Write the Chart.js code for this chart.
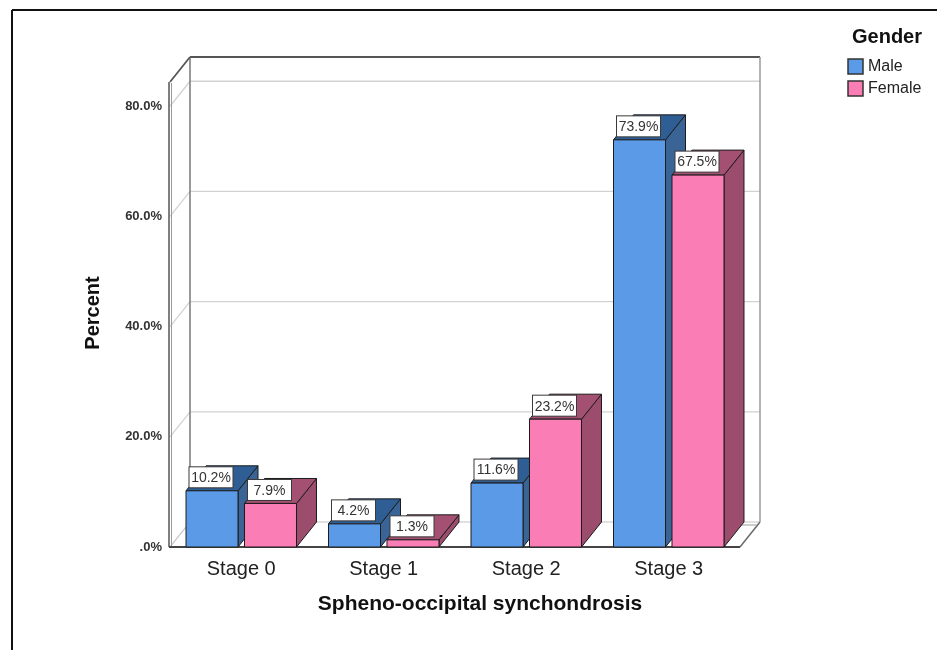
<!DOCTYPE html>
<html>
<head>
<meta charset="utf-8">
<script src="https://cdn.jsdelivr.net/npm/chart.js@4.4.1/dist/chart.umd.min.js"></script>
<style>
  html, body { margin: 0; padding: 0; background: #ffffff; }
  canvas { display: block; }
</style>
</head>
<body>
<canvas id="chart" width="937" height="650"></canvas>
<script>
// Spheno-occipital synchondrosis stage by gender (percent within gender)
const categories = ['Stage 0', 'Stage 1', 'Stage 2', 'Stage 3'];
const seriesNames = ['Male', 'Female'];
const maleValues = [10.2, 4.2, 11.6, 73.9];
const femaleValues = [7.9, 1.3, 23.2, 67.5];
const yTickValues = [0, 20, 40, 60, 80];
const yMax = 84.4;

const legendTitle = 'Gender';
const xTitle = 'Spheno-occipital synchondrosis';
const yTitle = 'Percent';

// face colours: front / side / top
const palette = [
  { front: '#5A9AE6', side: '#3A6496', top: '#2F5E95' },
  { front: '#FB7DB5', side: '#9C4C6D', top: '#A35072' }
];

// oblique depth of the 3D box and bars
const DX = 20, DY = -25;
const FONT = "'Liberation Sans', Arial, sans-serif";

function pct(v) {
  return v === 0 ? '.0%' : v.toFixed(1) + '%';
}

function poly(ctx, pts, fill, stroke, lw) {
  ctx.beginPath();
  ctx.moveTo(pts[0][0], pts[0][1]);
  for (let i = 1; i < pts.length; i++) ctx.lineTo(pts[i][0], pts[i][1]);
  ctx.closePath();
  if (fill) { ctx.fillStyle = fill; ctx.fill(); }
  if (stroke) { ctx.strokeStyle = stroke; ctx.lineWidth = lw || 1; ctx.stroke(); }
}

function line(ctx, x1, y1, x2, y2, color, lw) {
  ctx.beginPath();
  ctx.moveTo(x1, y1);
  ctx.lineTo(x2, y2);
  ctx.strokeStyle = color;
  ctx.lineWidth = lw;
  ctx.stroke();
}

const box3d = {
  id: 'box3d',
  beforeDatasetsDraw(chart) {
    const ctx = chart.ctx;
    const a = chart.chartArea;
    const ys = chart.scales.y;
    ctx.save();

    // outer frame
    line(ctx, 12, 10, chart.width + 2, 10, '#111', 2);
    line(ctx, 12, 10, 12, chart.height + 2, '#111', 2);

    const L = a.left, R = a.right, T = a.top, B = a.bottom;

    // floor slab
    poly(ctx, [[L, B], [R, B], [R + DX, B + DY], [L + DX, B + DY]], '#ffffff', null);
    line(ctx, L + DX, B + DY, R + DX, B + DY, '#c4c4c4', 1.2);
    line(ctx, L, B, L + DX, B + DY, '#bdbdbd', 1.2);
    line(ctx, R, B, R + DX, B + DY, '#6a6a6a', 1.5);
    line(ctx, R - 14, B + DY + 3, R + DX - 3, B + DY + 3, '#9a9a9a', 1);

    // back-wall and side-wall grid lines
    yTickValues.forEach(v => {
      if (v === 0) return;
      const py = ys.getPixelForValue(v);
      line(ctx, L + DX, py + DY, R + DX, py + DY, '#d2d2d2', 1.3);
      line(ctx, L, py, L + DX, py + DY, '#d2d2d2', 1.3);
    });

    // back wall outline
    line(ctx, L + DX, T + DY, R + DX, T + DY, '#555', 2);
    line(ctx, L + DX, T + DY, L + DX, B + DY, '#777', 1.5);
    line(ctx, R + DX, T + DY, R + DX, B + DY, '#9a9a9a', 1.5);

    // side wall
    line(ctx, L, T, L + DX, T + DY, '#555', 1.8);
    line(ctx, L - 1, T, L - 1, B, '#555', 1.5);
    line(ctx, L + 1.5, T + 1, L + 1.5, B, '#9a9a9a', 1);

    // floor front edge
    line(ctx, L - 1, B, R, B, '#444', 2);
    ctx.restore();
  },
  afterDatasetsDraw(chart) {
    const ctx = chart.ctx;
    const metas = [chart.getDatasetMeta(0), chart.getDatasetMeta(1)];
    ctx.save();
    ctx.lineJoin = 'miter';
    const outline = '#1c1c1c';
    for (let j = 0; j < categories.length; j++) {
      for (let d = 0; d < metas.length; d++) {
        const el = metas[d].data[j];
        const p = el.getProps(['x', 'y', 'base', 'width'], true);
        const xl = p.x - p.width / 2, xr = p.x + p.width / 2;
        const yt = p.y, yb = p.base;
        const c = palette[d];
        // side face
        poly(ctx, [[xr, yt], [xr + DX, yt + DY], [xr + DX, yb + DY], [xr, yb]], c.side, outline, 1);
        // top face
        poly(ctx, [[xl, yt], [xr, yt], [xr + DX, yt + DY], [xl + DX, yt + DY]], c.top, outline, 1);
        // front face
        poly(ctx, [[xl, yt], [xr, yt], [xr, yb], [xl, yb]], c.front, outline, 1);
      }
    }
    // value labels
    ctx.font = '14px ' + FONT;
    ctx.textAlign = 'center';
    ctx.textBaseline = 'middle';
    const bw = 44, bh = 21;
    for (let d = 0; d < metas.length; d++) {
      const values = chart.data.datasets[d].data;
      metas[d].data.forEach((el, j) => {
        const p = el.getProps(['x', 'y'], true);
        const bx = p.x - bw / 2 - 1;
        const by = p.y - 3 - bh;
        ctx.fillStyle = '#ffffff';
        ctx.fillRect(bx, by, bw, bh);
        ctx.strokeStyle = '#3a3a3a';
        ctx.lineWidth = 1;
        ctx.strokeRect(bx, by, bw, bh);
        ctx.fillStyle = '#333';
        ctx.fillText(pct(values[j]), bx + bw / 2, by + bh / 2 + 1);
      });
    }
    ctx.restore();
  },
  afterDraw(chart) {
    const ctx = chart.ctx;
    ctx.save();
    ctx.fillStyle = '#111';
    ctx.textBaseline = 'middle';

    // axis titles
    ctx.font = 'bold 21px ' + FONT;
    ctx.textAlign = 'center';
    ctx.fillText(xTitle, 480, 604);
    ctx.save();
    ctx.translate(93, 313);
    ctx.rotate(-Math.PI / 2);
    ctx.font = 'bold 20px ' + FONT;
    ctx.fillText(yTitle, 0, 0);
    ctx.restore();

    // legend
    ctx.font = 'bold 20px ' + FONT;
    ctx.textAlign = 'left';
    ctx.fillText(legendTitle, 852, 37);
    ctx.font = '16px ' + FONT;
    seriesNames.forEach((name, i) => {
      const y0 = 59 + i * 22;
      ctx.fillStyle = palette[i].front;
      ctx.fillRect(848, y0, 15, 15);
      ctx.strokeStyle = '#333';
      ctx.lineWidth = 1.5;
      ctx.strokeRect(848, y0, 15, 15);
      ctx.fillStyle = '#222';
      ctx.fillText(name, 868, y0 + 8);
    });
    ctx.restore();
  }
};

new Chart(document.getElementById('chart'), {
  type: 'bar',
  data: {
    labels: categories,
    datasets: [
      { label: seriesNames[0], data: maleValues, backgroundColor: 'rgba(0,0,0,0)', borderWidth: 0 },
      { label: seriesNames[1], data: femaleValues, backgroundColor: 'rgba(0,0,0,0)', borderWidth: 0 }
    ]
  },
  options: {
    responsive: false,
    devicePixelRatio: 1,
    animation: false,
    events: [],
    categoryPercentage: 0.821,
    barPercentage: 0.889,
    layout: { padding: { left: 0, right: 197, top: 82, bottom: 0 } },
    plugins: { legend: { display: false }, tooltip: { enabled: false }, title: { display: false } },
    scales: {
      x: {
        type: 'category',
        offset: true,
        grid: { display: false, drawTicks: false },
        border: { display: false },
        ticks: { color: '#222', font: { family: FONT, size: 20 }, padding: 10, maxRotation: 0 },
        afterFit(scale) { scale.height = 103; }
      },
      y: {
        min: 0,
        max: yMax,
        grid: { display: false, drawTicks: false },
        border: { display: false },
        afterBuildTicks(scale) { scale.ticks = yTickValues.map(v => ({ value: v })); },
        ticks: {
          color: '#333',
          font: { family: FONT, size: 13, weight: 'bold' },
          padding: 8,
          callback: v => pct(v)
        },
        afterFit(scale) { scale.width = 170; }
      }
    }
  },
  plugins: [box3d]
});
</script>
</body>
</html>
